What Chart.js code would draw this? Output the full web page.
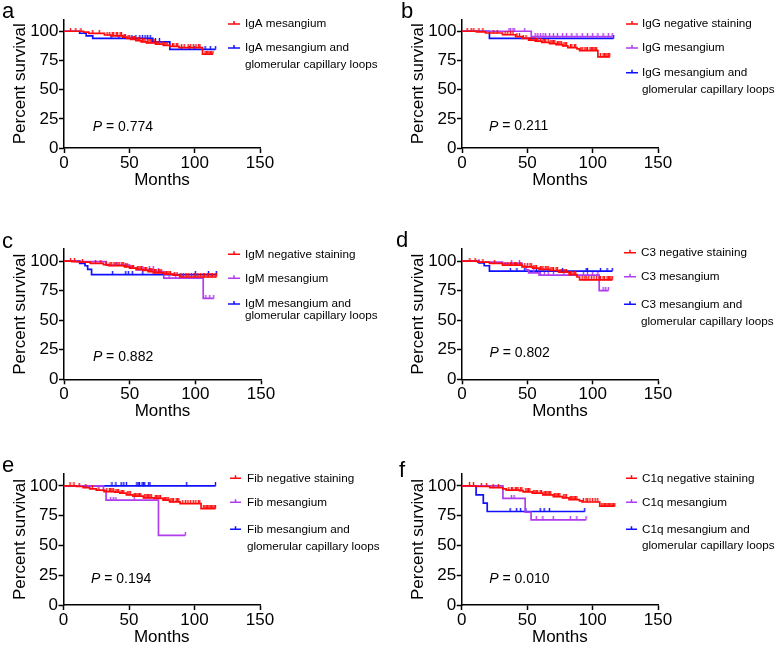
<!DOCTYPE html>
<html>
<head>
<meta charset="utf-8">
<script src="https://cdn.jsdelivr.net/npm/chart.js@4.4.1/dist/chart.umd.min.js"></script>
<style>
html, body { margin: 0; padding: 0; background: #fff; overflow: hidden; width: 778px; height: 645px; }
canvas { position: absolute; }
</style>
</head>
<body>
<canvas id="pa" width="389" height="215" style="left:0;top:0"></canvas>
<canvas id="pb" width="389" height="215" style="left:389px;top:0"></canvas>
<canvas id="pc" width="389" height="215" style="left:0;top:215px"></canvas>
<canvas id="pd" width="389" height="215" style="left:389px;top:215px"></canvas>
<canvas id="pe" width="389" height="220" style="left:0;top:430px"></canvas>
<canvas id="pf" width="389" height="220" style="left:389px;top:430px"></canvas>
<script>
// axis ticks
const xTicks = [0, 50, 100, 150];
const yTicks = [0, 25, 50, 75, 100];

// a: IgA
const aMesT = [0, 15, 19, 31, 36, 45, 48, 51, 55, 59, 63, 70, 76, 81, 88, 106];
const aMesS = [100, 99.2, 98.2, 96.8, 96, 95, 94, 93, 92, 91, 90, 89, 88, 87, 86, 80.5];
const aMesC = [5, 9, 13, 22, 27, 33, 35, 37, 38, 40, 41, 43, 44, 46, 47, 49, 50, 52, 53, 54, 56, 57, 58, 60, 61, 62, 64, 65, 66, 67, 69, 71, 72, 73, 75, 77, 78, 79, 83, 84, 86, 87, 90, 92, 95, 97, 99, 101, 103, 104, 108, 109, 110, 111, 112, 113, 114];
const aCapT = [0, 12, 17, 22, 68, 81];
const aCapS = [100, 98.3, 96, 94, 91, 84.5];
const aCapC = [36, 42, 46, 52, 55, 58, 60, 62, 64, 66, 70, 73, 90, 96, 100, 108, 112, 116];

// b: IgG
const bNegT = [0, 11, 18, 31, 41, 46, 51, 56, 61, 67, 72, 77, 81, 88, 90, 104];
const bNegS = [100, 99.5, 98.5, 97, 95.5, 94, 92.5, 91.5, 90.5, 89.5, 88.5, 87.5, 86, 85, 83.5, 78];
const bNegC = [4, 7, 9, 13, 16, 24, 27, 33, 35, 37, 39, 42, 44, 47, 49, 52, 53, 55, 57, 58, 60, 62, 63, 64, 66, 68, 69, 70, 71, 73, 74, 75, 76, 78, 79, 80, 83, 84, 86, 87, 91, 92, 94, 95, 96, 98, 99, 100, 101, 102, 103, 106, 108, 109, 110, 111, 112, 113];
const bMesT = [0, 53];
const bMesS = [100, 95.5];
const bMesC = [36, 37, 39, 40, 48, 56, 58, 60, 62, 64, 67, 70, 73, 77, 80, 84, 88, 92, 96, 100, 104, 108, 112, 115];
const bCapT = [0, 21];
const bCapS = [100, 94];
const bCapC = [116];

// c: IgM
const cNegT = [0, 6, 12, 20, 30, 34, 46, 50, 55, 60, 64, 68, 76, 83, 88];
const cNegS = [100, 99.5, 99, 98, 97, 96, 95, 94, 93, 92, 91, 90, 89, 88, 86.5];
const cNegC = [5, 8, 14, 24, 28, 32, 35, 36, 38, 39, 41, 42, 44, 45, 47, 48, 51, 52, 53, 56, 57, 58, 59, 61, 62, 63, 65, 66, 67, 69, 70, 72, 73, 74, 77, 78, 79, 80, 81, 84, 86, 89, 91, 93, 95, 97, 99, 100, 102, 104, 106, 107, 109, 110, 112, 113, 115, 116];
const cMesT = [0, 10, 32, 50, 55, 70, 76, 106];
const cMesS = [100, 99.5, 96.5, 94, 92.5, 91, 85.5, 68.5];
const cMesC = [40, 45, 52, 60, 65, 68, 72, 80, 85, 90, 108, 111, 114];
const cCapT = [0, 12, 16, 18, 21];
const cCapS = [100, 98, 96, 93, 88.5];
const cCapC = [37, 47, 49, 52, 60, 75, 100, 110, 116];

// d: C3
const dNegT = [0, 12, 21, 31, 46, 54, 59, 67, 74, 82, 88, 90];
const dNegS = [100, 99, 98, 96.5, 95, 94, 93, 92, 90.5, 88.5, 86.5, 84];
const dNegC = [6, 10, 16, 25, 33, 35, 37, 38, 40, 41, 42, 44, 45, 48, 50, 52, 53, 55, 56, 57, 60, 61, 62, 64, 65, 66, 68, 69, 70, 72, 73, 75, 76, 78, 79, 80, 83, 84, 86, 87, 92, 94, 95, 97, 99, 101, 103, 105, 106, 108, 109, 111, 112, 113, 114, 115];
const dMesT = [0, 13, 31, 46, 49, 51, 59, 105];
const dMesS = [100, 99, 98, 95.5, 92.5, 90, 88, 75];
const dMesC = [13, 38, 44, 55, 60, 63, 66, 70, 78, 85, 93, 96, 100, 104, 108, 110, 112];
const dCapT = [0, 13, 17, 21];
const dCapS = [100, 98.5, 96, 91.5];
const dCapC = [37, 42, 48, 57, 77, 95, 96, 106, 111, 115];

// e: Fib
const eNegT = [0, 10, 15, 20, 25, 31, 39, 43, 48, 53, 61, 69, 76, 81, 89, 105];
const eNegS = [100, 99.5, 98.5, 97.5, 96.5, 95.2, 94.8, 94, 92.5, 91.5, 90, 89.5, 88, 86.6, 85.2, 81];
const eNegC = [5, 8, 12, 17, 22, 27, 33, 35, 36, 37, 38, 40, 41, 42, 44, 45, 46, 49, 50, 51, 54, 55, 56, 57, 58, 59, 62, 63, 64, 65, 66, 67, 70, 71, 72, 73, 74, 77, 78, 79, 80, 82, 83, 84, 86, 87, 88, 91, 93, 95, 97, 99, 101, 103, 104, 107, 108, 109, 110, 111, 112, 113, 114, 115, 116];
const eMesT = [0, 30.5, 32.5, 72.5];
const eMesS = [100, 96, 88, 58.5];
const eMesC = [36, 38, 40, 54, 93];
const eCapT = [0];
const eCapS = [100];
const eCapC = [37, 40, 44, 46, 48, 56, 57, 58, 60, 61, 62, 65, 66, 94, 116];

// f: C1q
const fNegT = [0, 11, 21.5, 31.5, 34, 44, 47, 54, 62, 70, 77, 82, 90, 92, 105.5];
const fNegS = [100, 99.5, 98.5, 97.5, 96.5, 96, 95, 94, 92.5, 91, 90, 88.5, 87.5, 86.5, 83];
const fNegC = [6, 9, 15, 19, 24, 28, 36, 38, 39, 41, 42, 43, 45, 46, 49, 50, 51, 52, 55, 56, 57, 58, 60, 61, 63, 64, 65, 66, 67, 68, 71, 72, 73, 74, 75, 78, 79, 80, 83, 84, 85, 86, 87, 88, 93, 95, 96, 98, 100, 102, 104, 107, 108, 109, 110, 111, 112, 113, 114, 115, 116, 117];
const fMesT = [0, 31.5, 48.5, 53];
const fMesS = [100, 89.5, 78, 71.5];
const fMesC = [38, 40, 57, 62, 70, 83, 88, 95];
const fCapT = [0, 11, 16.5, 19.5];
const fCapS = [100, 92.5, 85.5, 78.5];
const fCapC = [37, 42, 45, 49, 60, 63, 67, 94];

const RED = '#ff0a0a';
const PURPLE = '#b03cf0';
const BLUE = '#1010ff';
const FONT = "'Liberation Sans', Arial, sans-serif";

Chart.defaults.font.family = FONT;
Chart.defaults.color = '#000';

// small upward tick for censored cases
const tickCache = {};
function censorMark(color) {
    if (!tickCache[color]) {
        const c = document.createElement('canvas');
        c.width = 3; c.height = 7;
        const g = c.getContext('2d');
        g.strokeStyle = color;
        g.lineWidth = 1.4;
        g.beginPath();
        g.moveTo(1.5, 0);
        g.lineTo(1.5, 3.6);
        g.stroke();
        tickCache[color] = c;
    }
    return tickCache[color];
}

function kmAt(T, S, t) {
    let v = S[0];
    for (let i = 0; i < T.length; i++) {
        if (T[i] <= t) v = S[i];
    }
    return v;
}

function kmDatasets(color, T, S, C) {
    const pts = T.map((t, i) => ({ x: t, y: S[i] }));
    pts.push({ x: Math.max(...C), y: S[S.length - 1] });
    return [{
        data: pts,
        borderColor: color,
        borderWidth: 1.7,
        stepped: true,
        pointRadius: 0,
        fill: false
    }, {
        data: C.map(t => ({ x: t, y: kmAt(T, S, t) })),
        showLine: false,
        pointStyle: censorMark(color),
        pointRadius: 4
    }];
}

const panels = [
    { id: 'pa', letter: 'a', letterPos: [2, 18.3], pad: [0, 129, 19.6, 22], yW: 64, p: '0.774', pAt: [22, 18],
      leg: [228, 240, 245], series: [
        { color: RED, T: aMesT, S: aMesS, C: aMesC, text: ['IgA mesangium'], y: [24] },
        { color: BLUE, T: aCapT, S: aCapS, C: aCapC, text: ['IgA mesangium and', 'glomerular capillary loops'], y: [48, 65] }
      ] },
    { id: 'pb', letter: 'b', letterPos: [12, 18.3], pad: [9, 120, 19.6, 22], yW: 64, p: '0.211', pAt: [20.7, 18.3],
      leg: [237, 249, 253], series: [
        { color: RED, T: bNegT, S: bNegS, C: bNegC, text: ['IgG negative staining'], y: [24] },
        { color: PURPLE, T: bMesT, S: bMesS, C: bMesC, text: ['IgG mesangium'], y: [48] },
        { color: BLUE, T: bCapT, S: bCapS, C: bCapC, text: ['IgG mesangium and', 'glomerular capillary loops'], y: [72.7, 89.3] }
      ] },
    { id: 'pc', letter: 'c', letterPos: [2, 33.3], pad: [0, 128, 34.2, 5.7], yW: 64, p: '0.882', pAt: [22, 19],
      leg: [228, 240, 245], series: [
        { color: RED, T: cNegT, S: cNegS, C: cNegC, text: ['IgM negative staining'], y: [39.3] },
        { color: PURPLE, T: cMesT, S: cMesS, C: cMesC, text: ['IgM mesangium'], y: [63.3] },
        { color: BLUE, T: cCapT, S: cCapS, C: cCapC, text: ['IgM mesangium and', 'glomerular capillary loops'], y: [89, 100.7] }
      ] },
    { id: 'pd', letter: 'd', letterPos: [7, 31.7], pad: [9, 120, 34.2, 5.7], yW: 64, p: '0.802', pAt: [21, 22.5],
      leg: [235, 247, 252], series: [
        { color: RED, T: dNegT, S: dNegS, C: dNegC, text: ['C3 negative staining'], y: [37.7] },
        { color: PURPLE, T: dMesT, S: dMesS, C: dMesC, text: ['C3 mesangium'], y: [61.7] },
        { color: BLUE, T: dCapT, S: dCapS, C: dCapC, text: ['C3 mesangium and', 'glomerular capillary loops'], y: [89.3, 106.7] }
      ] },
    { id: 'pe', letter: 'e', letterPos: [2, 41.7], pad: [0, 129, 44, 0], yW: 63.5, p: '0.194', pAt: [21, 21.8],
      leg: [230, 241, 247], series: [
        { color: RED, T: eNegT, S: eNegS, C: eNegC, text: ['Fib negative staining'], y: [48.3] },
        { color: PURPLE, T: eMesT, S: eMesS, C: eMesC, text: ['Fib mesangium'], y: [72.3] },
        { color: BLUE, T: eCapT, S: eCapS, C: eCapC, text: ['Fib mesangium and', 'glomerular capillary loops'], y: [99.3, 116.7] }
      ] },
    { id: 'pf', letter: 'f', letterPos: [10, 46.7], pad: [8.7, 120, 44, 0], yW: 64, p: '0.010', pAt: [21, 21.8],
      leg: [237, 248, 253], series: [
        { color: RED, T: fNegT, S: fNegS, C: fNegC, text: ['C1q negative staining'], y: [48.3] },
        { color: PURPLE, T: fMesT, S: fMesS, C: fMesC, text: ['C1q mesangium'], y: [72.3] },
        { color: BLUE, T: fCapT, S: fCapS, C: fCapC, text: ['C1q mesangium and', 'glomerular capillary loops'], y: [99.3, 116] }
      ] }
];

// panel letter, P value and legend
function extrasPlugin(p) {
    return {
        id: 'extras',
        afterDraw(chart) {
            const ctx = chart.ctx;
            ctx.save();
            ctx.fillStyle = '#000';
            ctx.textBaseline = 'alphabetic';
            ctx.textAlign = 'left';
            ctx.font = '22px ' + FONT;
            ctx.fillText(p.letter, p.letterPos[0], p.letterPos[1]);

            const px = chart.scales.x.getPixelForValue(p.pAt[0]);
            const py = chart.scales.y.getPixelForValue(p.pAt[1]);
            ctx.textBaseline = 'middle';
            ctx.font = 'italic 14px ' + FONT;
            ctx.fillText('P', px, py);
            const w = ctx.measureText('P').width;
            ctx.font = '14px ' + FONT;
            ctx.fillText(' = ' + p.p, px + w, py);

            ctx.font = '11.7px ' + FONT;
            p.series.forEach(s => {
                const y0 = s.y[0];
                ctx.strokeStyle = s.color;
                ctx.lineWidth = 1.5;
                ctx.beginPath();
                ctx.moveTo(p.leg[0], y0);
                ctx.lineTo(p.leg[1], y0);
                const mid = (p.leg[0] + p.leg[1]) / 2;
                ctx.moveTo(mid, y0);
                ctx.lineTo(mid, y0 - 3);
                ctx.stroke();
                ctx.fillStyle = '#000';
                s.text.forEach((t, i) => ctx.fillText(t, p.leg[2], s.y[i]));
            });
            ctx.restore();
        }
    };
}

const axisBase = {
    grid: { display: true, drawOnChartArea: false, drawTicks: true, tickLength: 5, tickWidth: 1.5, color: '#000' },
    border: { display: true, color: '#000', width: 1.5 }
};

panels.forEach(p => {
    const datasets = [];
    p.series.forEach(s => datasets.push(...kmDatasets(s.color, s.T, s.S, s.C)));
    new Chart(document.getElementById(p.id), {
        type: 'line',
        data: { datasets: datasets },
        options: {
            responsive: false,
            animation: false,
            events: [],
            layout: { padding: { left: p.pad[0], right: p.pad[1], top: p.pad[2], bottom: p.pad[3] } },
            plugins: { legend: { display: false }, tooltip: { enabled: false } },
            scales: {
                x: {
                    ...axisBase,
                    type: 'linear',
                    min: 0,
                    max: 150,
                    afterBuildTicks: sc => { sc.ticks = xTicks.map(v => ({ value: v })); },
                    afterFit: sc => { sc.height = 45; },
                    ticks: { font: { size: 17 }, color: '#000', padding: 0, maxRotation: 0, autoSkip: false },
                    title: { display: true, text: 'Months', font: { size: 17 }, color: '#000', padding: { top: 0, bottom: 2.3 } }
                },
                y: {
                    ...axisBase,
                    type: 'linear',
                    min: 0,
                    max: 110,
                    afterBuildTicks: sc => { sc.ticks = yTicks.map(v => ({ value: v })); },
                    afterFit: sc => { sc.width = p.yW; },
                    ticks: { font: { size: 17 }, color: '#000', padding: 0.5 },
                    title: { display: true, text: 'Percent survival', font: { size: 17 }, color: '#000', padding: { top: 10, bottom: 0 } }
                }
            }
        },
        plugins: [extrasPlugin(p)]
    });
});
</script>
</body>
</html>
